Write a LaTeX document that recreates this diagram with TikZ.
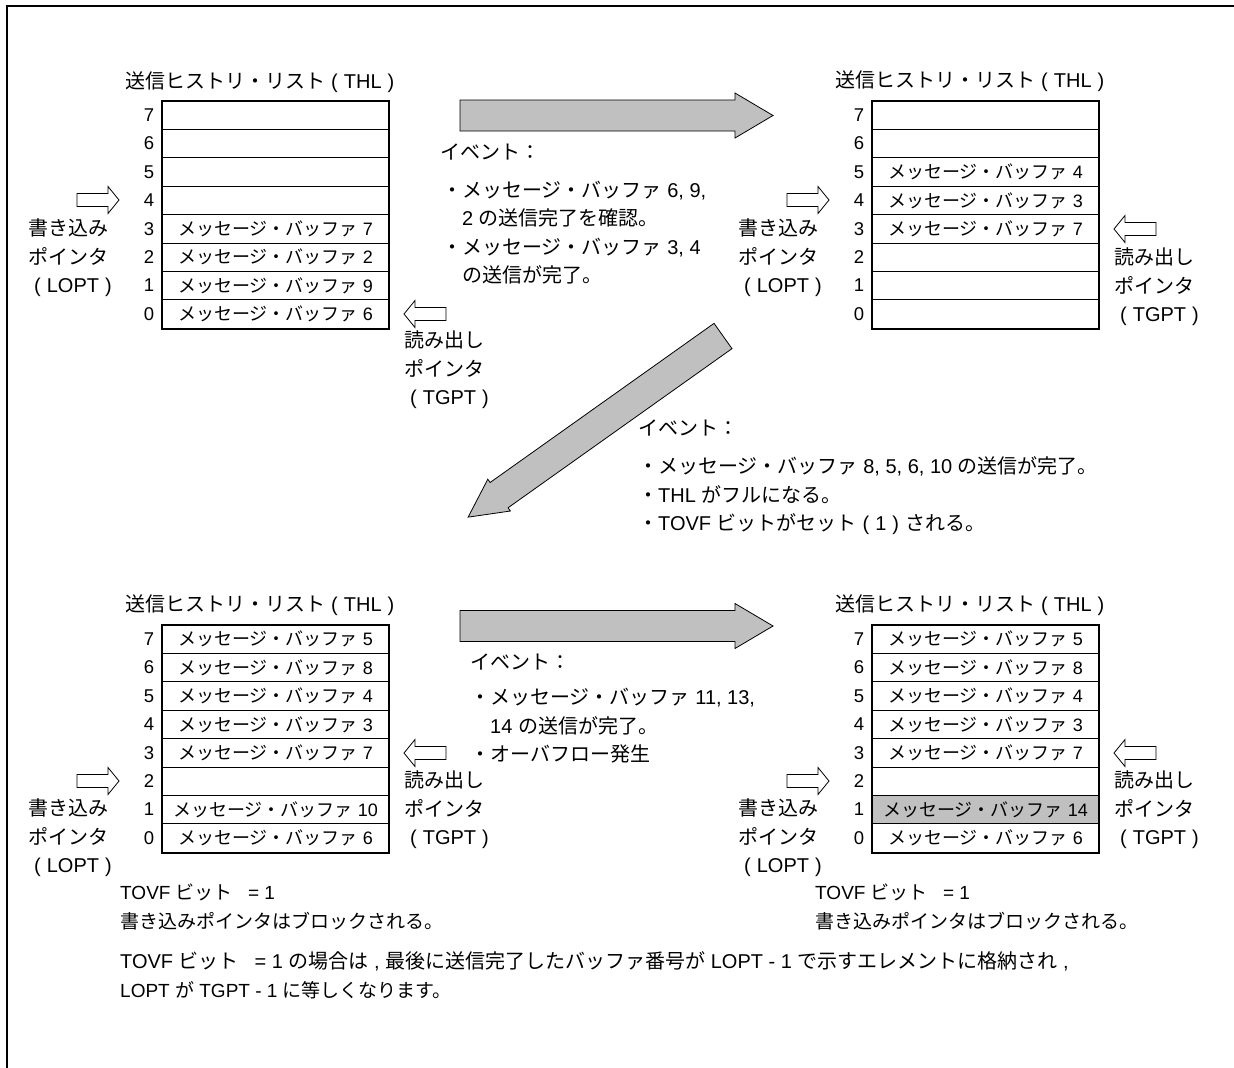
\documentclass[tikz,border=0pt]{standalone}
\usepackage{fontspec}
\setmainfont{Liberation Sans}
\newfontfamily\jpfont{Noto Sans CJK JP}
\XeTeXinterchartokenstate=1
\chardef\jpclass=7
\makeatletter
\def\setjpclass#1#2{\count@=#1\relax
  \loop\XeTeXcharclass\count@=\jpclass
  \ifnum\count@<#2\relax\advance\count@ by 1\repeat}
\setjpclass{"3000}{"30FF}
\setjpclass{"4E00}{"9FFF}
\setjpclass{"FF00}{"FFEF}
\makeatother
\XeTeXinterchartoks 0 \jpclass = {\jpfont}
\XeTeXinterchartoks 4095 \jpclass = {\jpfont}
\XeTeXinterchartoks \jpclass 0 = {\rmfamily}
\XeTeXinterchartoks \jpclass 4095 = {\rmfamily}
\definecolor{fillg}{HTML}{C0C0C0}
\newcommand\pp[1]{\hspace{0.3em}(\hspace{0.3em}#1\hspace{0.3em})}
\newcommand\mkthl[4]{%
  \foreach \rr/\cf/\cellt in {#4} {
    \node[cell, fill=\cf] (#1\rr) at ({#2+113.5},{#3+(7.5-\rr)*28.4}) {\cellt};
    \node[idx] (#1i\rr) at ({#2-13},{#3+(7.5-\rr)*28.4}) {\rr};
  }
  \draw[line width=2pt] (#17.north west) rectangle (#10.south east);
}
\begin{document}
\begin{tikzpicture}[x=1pt,y=-1pt,
  txt/.style={inner sep=0pt, font=\fontsize{20}{28.5}\selectfont, align=left},
  note/.style={inner sep=0pt, font=\fontsize{19}{28.5}\selectfont, align=left},
  cell/.style={draw, line width=0.9pt, minimum width=227pt, minimum height=28.4pt, inner sep=0pt, font=\fontsize{18}{20}\selectfont},
  idx/.style={inner sep=0pt, font=\fontsize{18.5}{20}\selectfont},
  ptr/.style={draw, line width=0.8pt, fill=white},
  big/.style={draw, line width=0.8pt, fill=fillg},
  frame/.style={line width=2pt},
  rptr/.pic={\draw[ptr] (0,-6.5) -- (31,-6.5) -- (31,-13.5) -- (42,0) -- (31,13.5) -- (31,6.5) -- (0,6.5) -- cycle;},
  lptr/.pic={\draw[ptr] (0,0) -- (11,-13.5) -- (11,-6.5) -- (42,-6.5) -- (42,6.5) -- (11,6.5) -- (11,13.5) -- cycle;}]
\useasboundingbox (0,0) rectangle (1234,1068);
\draw[frame] (7,1068) -- (7,6) -- (1234,6);

% tables
\mkthl{tl}{162}{101}{7/white/{},6/white/{},5/white/{},4/white/{},3/white/メッセージ・バッファ 7,2/white/メッセージ・バッファ 2,1/white/メッセージ・バッファ 9,0/white/メッセージ・バッファ 6}
\mkthl{tr}{872}{101}{7/white/{},6/white/{},5/white/メッセージ・バッファ 4,4/white/メッセージ・バッファ 3,3/white/メッセージ・バッファ 7,2/white/{},1/white/{},0/white/{}}
\mkthl{bl}{162}{625}{7/white/メッセージ・バッファ 5,6/white/メッセージ・バッファ 8,5/white/メッセージ・バッファ 4,4/white/メッセージ・バッファ 3,3/white/メッセージ・バッファ 7,2/white/{},1/white/メッセージ・バッファ 10,0/white/メッセージ・バッファ 6}
\mkthl{br}{872}{625}{7/white/メッセージ・バッファ 5,6/white/メッセージ・バッファ 8,5/white/メッセージ・バッファ 4,4/white/メッセージ・バッファ 3,3/white/メッセージ・バッファ 7,2/white/{},1/fillg/メッセージ・バッファ 14,0/white/メッセージ・バッファ 6}

% titles
\node[txt, anchor=west] (tlt) at (125,82) {送信ヒストリ・リスト\pp{THL}};
\node[txt, anchor=west] (trt) at (835,81) {送信ヒストリ・リスト\pp{THL}};
\node[txt, anchor=west] (blt) at (125,605) {送信ヒストリ・リスト\pp{THL}};
\node[txt, anchor=west] (brt) at (835,605) {送信ヒストリ・リスト\pp{THL}};

% pointers
\pic (tlw) at (77,200) {rptr};
\pic (tlr) at (404,314) {lptr};
\pic (trw) at (787,200) {rptr};
\pic (trr) at (1114,229) {lptr};
\pic (blw) at (77,781) {rptr};
\pic (blr) at (404,753) {lptr};
\pic (brw) at (787,781) {rptr};
\pic (brr) at (1114,753) {lptr};

% pointer labels
\node[txt, anchor=west] (tlwl) at (28,258) {書き込み\\ポインタ\\\pp{LOPT}};
\node[txt, anchor=west] (tlrl) at (404,370) {読み出し\\ポインタ\\\pp{TGPT}};
\node[txt, anchor=west] (trwl) at (738,258) {書き込み\\ポインタ\\\pp{LOPT}};
\node[txt, anchor=west] (trrl) at (1114,287) {読み出し\\ポインタ\\\pp{TGPT}};
\node[txt, anchor=west] (blwl) at (28,838) {書き込み\\ポインタ\\\pp{LOPT}};
\node[txt, anchor=west] (blrl) at (404,810) {読み出し\\ポインタ\\\pp{TGPT}};
\node[txt, anchor=west] (brwl) at (738,838) {書き込み\\ポインタ\\\pp{LOPT}};
\node[txt, anchor=west] (brrl) at (1114,810) {読み出し\\ポインタ\\\pp{TGPT}};

% big arrows
\draw[big] (460,100) -- (735,100) -- (735,93) -- (773,115.5) -- (735,138) -- (735,131) -- (460,131) -- cycle;
\draw[big] (460,610.5) -- (735,610.5) -- (735,603.5) -- (773,626) -- (735,648.5) -- (735,641.5) -- (460,641.5) -- cycle;
\draw[big, shift={(723,336)}, rotate=215.4] (0,-15.5) -- (274.7,-15.5) -- (274.7,-19.5) -- (312.7,0) -- (274.7,19.5) -- (274.7,15.5) -- (0,15.5) -- cycle;

% events
\node[txt, anchor=west] (e1h) at (440,152) {イベント：};
\node[txt, anchor=west] (e1) at (442,232.5) {・メッセージ・バッファ 6, 9,\\　2 の送信完了を確認。\\・メッセージ・バッファ 3, 4\\　の送信が完了。};
\node[txt, anchor=west] (e2h) at (638,428) {イベント：};
\node[txt, anchor=west] (e2) at (638,496) {・メッセージ・バッファ 8, 5, 6, 10 の送信が完了。\\・THL がフルになる。\\・TOVF ビットがセット\pp{1}\hspace{0.3em}される。};
\node[txt, anchor=west] (e3h) at (470,662) {イベント：};
\node[txt, anchor=west] (e3) at (470,726) {・メッセージ・バッファ 11, 13,\\　14 の送信が完了。\\・オーバフロー発生};

% notes
\node[note, anchor=west] (n1) at (120,907) {TOVF ビット\hspace{0.8em}= 1\\書き込みポインタはブロックされる。};
\node[note, anchor=west] (n2) at (815,907) {TOVF ビット\hspace{0.8em}= 1\\書き込みポインタはブロックされる。};
\node[note, anchor=west] (n3) at (120,975.5) {{\fontsize{20}{28.5}\selectfont TOVF ビット\hspace{0.8em}= 1 の場合は , 最後に送信完了したバッファ番号が LOPT - 1 で示すエレメントに格納され ,}\\LOPT が TGPT - 1 に等しくなります。};
\end{tikzpicture}
\end{document}
